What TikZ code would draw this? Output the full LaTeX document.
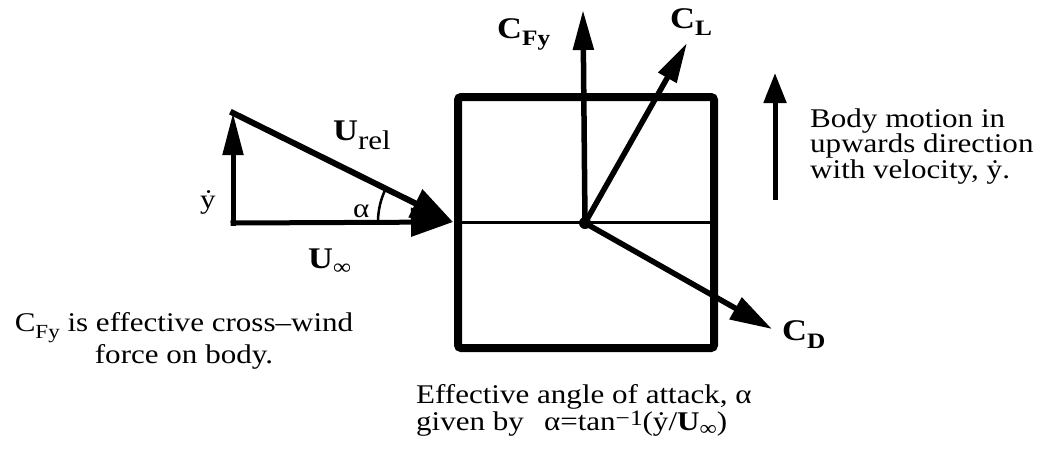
\documentclass[tikz,border=0pt]{standalone}
\usepackage{fontspec}
\setmainfont{Liberation Serif}[FakeStretch=1.15]
\usetikzlibrary{arrows.meta}
\newcommand\fsz[1]{\fontsize{#1}{#1}\selectfont}
\begin{document}
\begin{tikzpicture}[x=1pt,y=-1pt,
  lbl/.style={inner sep=0pt, anchor=base west, font=\fsz{27}},
  para/.style={inner sep=0pt, anchor=base west, align=left, font=\fontsize{27}{25.5}\selectfont},
  carrow/.style={line width=5.5pt, -{Triangle[length=40pt,width=20pt]}},
  tarrow/.style={line width=5pt, line cap=rect, -{Triangle[length=42pt,width=20pt]}},
  harrow/.style={line width=6pt, line cap=rect, -{Triangle[length=42pt,width=30pt]}},
]
\useasboundingbox (0,0) rectangle (1047,459);
% body
\node[draw, line width=8pt, rounded corners=3pt, minimum width=256pt, minimum height=251pt, inner sep=0pt] (box) at (586,222.5) {};
\coordinate (O) at (585,223);
\draw[line width=3.5pt] (box.west) -- (box.east);
% force arrows
\coordinate (fy) at (583,10);
\coordinate (cl) at (687,43);
\coordinate (cd) at (772,329);
\draw[carrow] (O) -- (fy);
\draw[carrow] (O) -- (cl);
\draw[carrow,-{Triangle[length=42pt,width=24pt]}] (O) -- (cd);
\fill (O) circle[radius=6pt];
% velocity triangle
\coordinate (A) at (233,223);
\coordinate (B) at (233,113);
\coordinate (T) at (453,222);
\draw[tarrow,-{Triangle[length=42pt,width=28pt]}] (A) -- (T);
\draw[tarrow] (A) -- (B);
\draw[harrow] (B) -- (T);
\draw[line width=2.5pt, shift={(T)}] plot[domain=0:26.4, samples=25] ({-75*cos(\x)},{-75*sin(\x)});
% body motion arrow
\coordinate (v0) at (775,200);
\coordinate (v1) at (775,73);
\draw[line width=5pt, -{Triangle[length=30pt,width=22pt]}] (v0) -- (v1);
% labels
\node[lbl, font=\fsz{30}\bfseries] (cfy) at (497,38) {C\raisebox{-7pt}{\fsz{22}Fy}};
\node[lbl, font=\fsz{30}\bfseries] (clab) at (670,28) {C\raisebox{-7pt}{\fsz{22}L}};
\node[lbl, font=\fsz{30}\bfseries] (cdlab) at (782,340) {C\raisebox{-8pt}{\fsz{22}D}};
\node[lbl] (urel) at (333,140) {\fsz{30}\textbf{U}\raisebox{-9pt}{\fsz{27}rel}};
\node[lbl] (uinf) at (308,268) {\fsz{30}\textbf{U}\raisebox{-6pt}{\fsz{22}∞}};
\node[lbl] (ydot) at (200,208) {\.{y}};
\node[lbl] (alpha) at (353,217) {α};
% last-line baselines (multi-line nodes sit on their last line)
\node[para] (motion) at (810,178)
  {Body motion in\\ upwards direction\\ with velocity, \.{y}.};
\node[para, anchor=base, align=center] (note) at (184,363)
  {C\raisebox{-7pt}{\fsz{20}Fy} is effective cross–wind\\ force on body.};
\node[para, font=\fontsize{27}{25}\selectfont] (aoa) at (416,430)
  {Effective angle of attack, α\\ given by\ \ \,α=tan\raisebox{5pt}{\fsz{22}−1}(\.{y}/\textbf{U}\raisebox{-5pt}{\fsz{21}∞})};
\end{tikzpicture}
\end{document}
